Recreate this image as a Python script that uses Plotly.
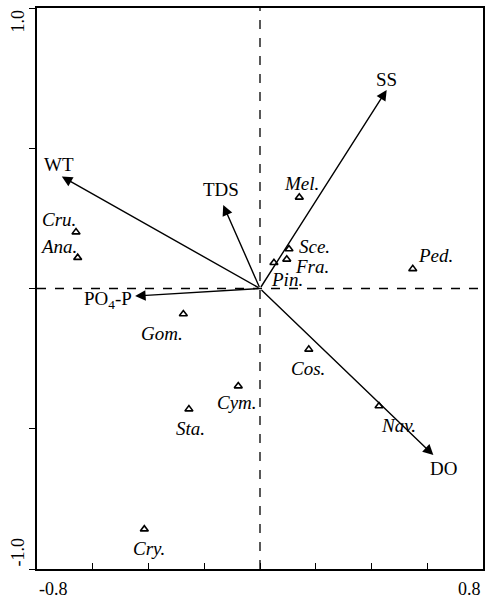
import plotly.graph_objects as go

# ---- data ----
species = ["Cru.", "Ana.", "Gom.", "Cym.", "Sta.", "Cos.", "Nav.", "Cry.",
           "Mel.", "Sce.", "Fra.", "Pin.", "Ped."]
species_x = [-0.660, -0.654, -0.275, -0.078, -0.255, 0.175, 0.427, -0.415,
             0.141, 0.104, 0.096, 0.050, 0.548]
species_y = [0.201, 0.110, -0.091, -0.348, -0.430, -0.217, -0.419, -0.858,
             0.325, 0.141, 0.104, 0.092, 0.070]

env = ["WT", "TDS", "SS", "DO", "PO<sub>4</sub>-P"]
env_x = [-0.711, -0.132, 0.4545, 0.622, -0.448]
env_y = [0.399, 0.298, 0.708, -0.594, -0.027]

x_ticks = [-0.8, -0.6, -0.4, -0.2, 0.0, 0.2, 0.4, 0.6, 0.8]
y_ticks = [-1.0, -0.5, 0.0, 0.5, 1.0]

# ---- label placement (pixel offsets) ----
species_offsets = [(-17, 13), (-19, 11), (-21, -19), (-1, -16), (2, -19),
                   (-1, -19), (19, -19), (5, -19), (2, 14), (26, 2),
                   (25, -7), (13, -17), (23, 13)]
env_offsets = [(-3, 12, "center"), (-2, 15, "center"), (0, 10, "center"),
               (10, -13, "center"), (-1, -4, "right")]

SERIF = "Liberation Serif, Times New Roman, serif"

fig = go.Figure()

fig.add_trace(go.Scatter(
    x=species_x, y=species_y, mode="markers",
    marker=dict(symbol="triangle-up-open", size=7, color="black",
                line=dict(color="black", width=1.6)),
    hoverinfo="text", text=species, showlegend=False))

# dashed reference lines
fig.add_shape(type="line", xref="x", yref="y", x0=x_ticks[0], x1=x_ticks[-1],
              y0=0, y1=0, line=dict(color="black", width=1.3, dash="dash"))
fig.add_shape(type="line", xref="x", yref="y", x0=0, x1=0,
              y0=y_ticks[0], y1=y_ticks[-1],
              line=dict(color="black", width=1.3, dash="dash"))

# environmental arrows
for name, ex, ey, (dx, dy, anc) in zip(env, env_x, env_y, env_offsets):
    fig.add_annotation(x=ex, y=ey, ax=0, ay=0, xref="x", yref="y",
                       axref="x", ayref="y", text="", showarrow=True,
                       arrowhead=2, arrowsize=1.5, arrowwidth=1.4,
                       arrowcolor="black", standoff=0, startstandoff=0)
    fig.add_annotation(x=ex, y=ey, xref="x", yref="y", text=name,
                       showarrow=False, xshift=dx, yshift=dy, xanchor=anc,
                       yanchor="middle",
                       font=dict(family=SERIF, size=19, color="black"))

# species labels
for name, sx, sy, (dx, dy) in zip(species, species_x, species_y, species_offsets):
    fig.add_annotation(x=sx, y=sy, xref="x", yref="y",
                       text="<i>" + name + "</i>", showarrow=False,
                       xshift=dx, yshift=dy, xanchor="center", yanchor="middle",
                       font=dict(family=SERIF, size=19, color="black"))

# end tick labels (aligned inward as in the reference)
fig.add_annotation(x=x_ticks[0], y=0, xref="x", yref="paper", yshift=-20,
                   text="-0.8", showarrow=False, xanchor="left", yanchor="middle",
                   font=dict(family=SERIF, size=18, color="black"))
fig.add_annotation(x=x_ticks[-1], y=0, xref="x", yref="paper", yshift=-20,
                   text="0.8", showarrow=False, xanchor="right", yanchor="middle",
                   font=dict(family=SERIF, size=18, color="black"))
fig.add_annotation(x=0, y=y_ticks[-1], xref="paper", yref="y", xshift=-20,
                   text="1.0", showarrow=False, textangle=-90,
                   xanchor="center", yanchor="top",
                   font=dict(family=SERIF, size=18, color="black"))
fig.add_annotation(x=0, y=y_ticks[0], xref="paper", yref="y", xshift=-20,
                   text="-1.0", showarrow=False, textangle=-90,
                   xanchor="center", yanchor="bottom",
                   font=dict(family=SERIF, size=18, color="black"))

fig.update_xaxes(range=[x_ticks[0], x_ticks[-1]], tickvals=x_ticks,
                 showticklabels=False, ticks="inside", ticklen=6,
                 tickwidth=1.3, tickcolor="black", showline=True,
                 linecolor="black", linewidth=1.5, mirror=True,
                 showgrid=False, zeroline=False, automargin=False)
fig.update_yaxes(range=[y_ticks[0], y_ticks[-1]], tickvals=y_ticks,
                 showticklabels=False, ticks="outside", ticklen=6,
                 tickwidth=1.3, tickcolor="black", showline=True,
                 linecolor="black", linewidth=1.5, mirror=True,
                 showgrid=False, zeroline=False, automargin=False)

fig.update_layout(width=486, height=600,
                  margin=dict(l=37, r=3, t=8, b=31),
                  paper_bgcolor="white", plot_bgcolor="white",
                  showlegend=False)

# remove the default 8px page margin so the figure fills the window exactly
fig.write_html("out.html",
               config={"displayModeBar": False},
               post_script="document.body.style.margin='0';"
                           "document.body.style.overflow='hidden';")
